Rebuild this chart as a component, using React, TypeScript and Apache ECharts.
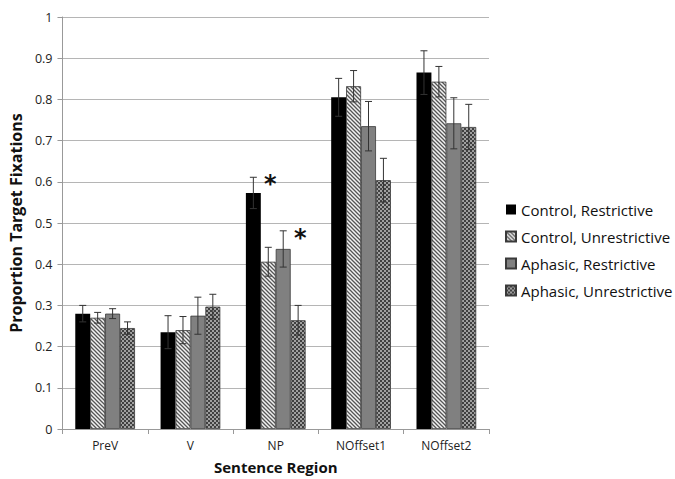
import React, { useEffect, useRef } from "react";
import * as echarts from "echarts";

const categories = ["PreV", "V", "NP", "NOffset1", "NOffset2"];
const seriesNames = [
  "Control, Restrictive",
  "Control, Unrestrictive",
  "Aphasic, Restrictive",
  "Aphasic, Unrestrictive",
];
const controlRestrictive = [0.28, 0.235, 0.573, 0.805, 0.865];
const controlUnrestrictive = [0.27, 0.24, 0.406, 0.832, 0.843];
const aphasicRestrictive = [0.28, 0.275, 0.437, 0.735, 0.742];
const aphasicUnrestrictive = [0.245, 0.297, 0.264, 0.604, 0.733];

const errControlRestrictive = [0.02, 0.04, 0.038, 0.046, 0.053];
const errControlUnrestrictive = [0.013, 0.033, 0.035, 0.038, 0.037];
const errAphasicRestrictive = [0.012, 0.045, 0.044, 0.06, 0.062];
const errAphasicUnrestrictive = [0.015, 0.03, 0.036, 0.053, 0.055];

// significance markers: [seriesIndex, categoryIndex]
const significant = [
  [0, 2],
  [2, 2],
];

const yTicks = { min: 0, max: 1, interval: 0.1 };

function makeHatch(): HTMLCanvasElement {
  const c = document.createElement("canvas");
  c.width = 4;
  c.height = 4;
  const ctx = c.getContext("2d")!;
  ctx.fillStyle = "#f2f2f2";
  ctx.fillRect(0, 0, 4, 4);
  ctx.strokeStyle = "#555";
  ctx.lineWidth = 1.3;
  ctx.beginPath();
  ctx.moveTo(-1, -1);
  ctx.lineTo(5, 5);
  ctx.moveTo(-1, 3);
  ctx.lineTo(1, 5);
  ctx.moveTo(3, -1);
  ctx.lineTo(5, 1);
  ctx.stroke();
  return c;
}

function makeChecker(): HTMLCanvasElement {
  const c = document.createElement("canvas");
  c.width = 4;
  c.height = 4;
  const ctx = c.getContext("2d")!;
  ctx.fillStyle = "#a0a0a0";
  ctx.fillRect(0, 0, 4, 4);
  ctx.fillStyle = "#404040";
  ctx.fillRect(0, 0, 2, 2);
  ctx.fillRect(2, 2, 2, 2);
  return c;
}

export default function App() {
  const ref = useRef<HTMLDivElement>(null);
  useEffect(() => {
    if (!ref.current) return;
    const chart = echarts.init(ref.current, undefined, { renderer: "svg" });
    const values = [controlRestrictive, controlUnrestrictive, aphasicRestrictive, aphasicUnrestrictive];
    const errs = [errControlRestrictive, errControlUnrestrictive, errAphasicRestrictive, errAphasicUnrestrictive];
    const colors: any[] = [
      "#000000",
      { image: makeHatch(), repeat: "repeat" },
      "#808080",
      { image: makeChecker(), repeat: "repeat" },
    ];
    const font = "'Open Sans', 'Noto Sans', sans-serif";
    const gapRatio = 0.3;

    const barSeries = values.map((v, i) => ({
      type: "bar",
      name: seriesNames[i],
      data: v,
      barCategoryGap: "30%",
      barGap: "0%",
      itemStyle: {
        color: colors[i],
        borderColor: i === 0 ? "#000" : "#3a3a3a",
        borderWidth: i === 0 ? 0 : 0.8,
      },
    }));

    const errSeries = values.map((v, i) => ({
      type: "custom",
      name: seriesNames[i] + " err",
      z: 10,
      silent: true,
      data: v.map((val, k) => [k, val, errs[i][k]]),
      renderItem: (params: any, api: any) => {
        const cat = api.value(0);
        const val = api.value(1);
        const e = api.value(2);
        const catW = api.size([1, 0])[0];
        const bw = (catW * (1 - gapRatio)) / 4;
        const center = api.coord([cat, val]);
        const x = center[0] + (i - 1.5) * bw;
        const top = api.coord([cat, val + e])[1];
        const bot = api.coord([cat, val - e])[1];
        const cap = 3.5;
        const style = { stroke: "#333", lineWidth: 1 };
        const children: any[] = [
          { type: "line", shape: { x1: x, y1: top, x2: x, y2: bot }, style },
          { type: "line", shape: { x1: x - cap, y1: top, x2: x + cap, y2: top }, style },
          { type: "line", shape: { x1: x - cap, y1: bot, x2: x + cap, y2: bot }, style },
        ];
        if (significant.some((s) => s[0] === i && s[1] === cat)) {
          children.push({
            type: "text",
            x: x + 17,
            y: top + 7,
            style: {
              text: "*",
              fill: "#111",
              font: "bold 24px 'DejaVu Sans', sans-serif",
              align: "center",
              verticalAlign: "middle",
            },
          });
        }
        return { type: "group", children };
      },
    }));

    chart.setOption({
      animation: false,
      backgroundColor: "#fff",
      grid: { left: 61, right: 186, top: 17, bottom: 47 },
      legend: {
        orient: "vertical",
        left: 500,
        top: 197,
        itemWidth: 10,
        itemHeight: 10,
        itemGap: 12,
        icon: "rect",
        data: seriesNames,
        textStyle: { fontFamily: font, fontSize: 15, color: "#111" },
      },
      xAxis: {
        type: "category",
        data: categories,
        name: "Sentence Region",
        nameLocation: "middle",
        nameGap: 30,
        nameTextStyle: { fontFamily: font, fontSize: 15, fontWeight: "bold", color: "#111" },
        axisLine: { lineStyle: { color: "#999" } },
        axisTick: { show: true, alignWithLabel: false, length: 5, lineStyle: { color: "#999" } },
        axisLabel: { fontFamily: font, fontSize: 12, color: "#222", margin: 10 },
      },
      yAxis: {
        type: "value",
        min: yTicks.min,
        max: yTicks.max,
        interval: yTicks.interval,
        name: "Proportion Target Fixations",
        nameLocation: "middle",
        nameGap: 36,
        nameTextStyle: { fontFamily: font, fontSize: 16, fontWeight: "bold", color: "#111" },
        axisLine: { show: true, lineStyle: { color: "#999" } },
        axisTick: { show: true, length: 5, lineStyle: { color: "#999" } },
        axisLabel: {
          fontFamily: font,
          fontSize: 12.5,
          color: "#222",
          margin: 10,
          formatter: (v: number) => String(Math.round(v * 10) / 10),
        },
        splitLine: { lineStyle: { color: "#b5b5b5", width: 1 } },
      },
      series: [...barSeries, ...errSeries],
    });
    return () => chart.dispose();
  }, []);
  return <div ref={ref} style={{ width: 675, height: 479, position: "absolute", left: 0, top: 0 }} />;
}
